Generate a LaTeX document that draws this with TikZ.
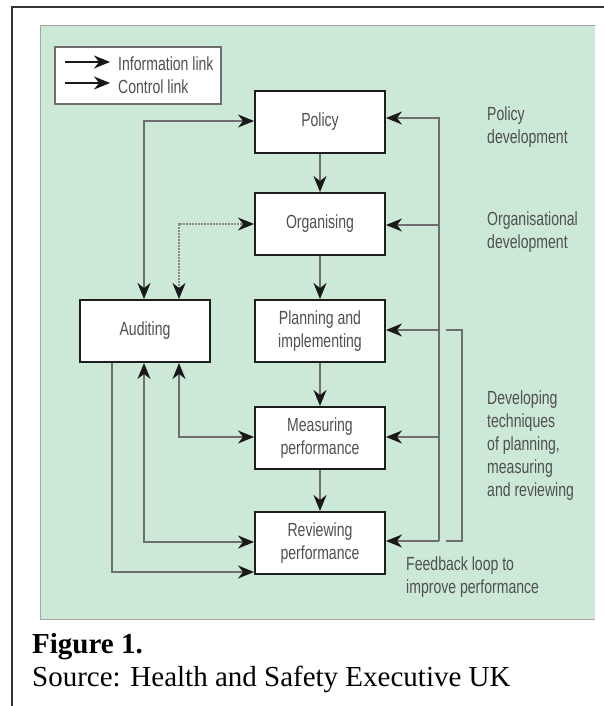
\documentclass[tikz,border=0pt]{standalone}
\usepackage{fontspec}
\setmainfont{Liberation Serif}
\newfontfamily\cond[FakeStretch=0.74]{Liberation Sans}
\usetikzlibrary{arrows.meta}
\definecolor{panel}{RGB}{204,232,215}
\definecolor{txt}{RGB}{80,80,80}
\definecolor{ln}{RGB}{110,110,110}
\definecolor{tipc}{RGB}{25,25,25}
\definecolor{boxc}{RGB}{30,30,30}
\newcommand{\stk}[1]{\vtop{\halign{##\hfil\cr#1\crcr}}}
\begin{document}
\begin{tikzpicture}[x=1pt,y=-1pt,
  >={Stealth[length=16pt,width=13pt,inset=5pt,color=tipc]},
  box/.style={draw=boxc, line width=2pt, fill=white, minimum width=130pt,
    minimum height=62pt, inner sep=0pt, align=center, text=txt,
    font=\cond\fontsize{19}{23}\selectfont},
  link/.style={draw=ln, line width=1.4pt},
  ctrl/.style={draw=ln!80, line width=1.4pt, dash pattern=on 2pt off 1pt},
  lbl/.style={text=txt, font=\cond\fontsize{19}{23}\selectfont, inner sep=0pt, anchor=base west}]
\useasboundingbox (0,0) rectangle (604,706);
% frame and panel
\draw[line width=1.5pt, draw=black!80] (12,706) -- (12,7) -- (604,7);
\fill[panel] (40,26) rectangle (595,619);
\draw[gray!70, line width=1pt] (595,26) -- (40,26) -- (40,619) -- (595,619);
% legend
\node[draw=ln, line width=1.4pt, fill=white, minimum width=166pt, minimum height=57pt, inner sep=0pt] (legend) at (138,75.5) {};
\coordinate (l1s) at (65,62); \coordinate (l1e) at (110,62);
\coordinate (l2s) at (65,83); \coordinate (l2e) at (110,83);
\draw[line width=1.4pt, draw=tipc, ->] (l1s) -- (l1e);
\draw[line width=1.4pt, draw=tipc, ->] (l2s) -- (l2e);
\node[lbl] (lt1) at (118,71) {Information link};
\node[lbl] (lt2) at (118,94) {Control link};
% boxes
\node[box] (policy) at (320,122) {Policy};
\node[box] (org) at (320,224) {Organising};
\node[box] (plan) at (320,331) {Planning and\\implementing};
\node[box] (meas) at (320,438) {Measuring\\performance};
\node[box] (rev) at (320,543) {Reviewing\\performance};
\node[box] (aud) at (145,331) {Auditing};
% central arrows
\draw[link,->] (policy) -- (org);
\draw[link,->] (org) -- (plan);
\draw[link,->] (plan) -- (meas);
\draw[link,->] (meas) -- (rev);
% left links
\coordinate (a1) at (144,121);
\coordinate (a2) at (179,224);
\coordinate (a3) at (179,437);
\coordinate (a4) at (144,542);
\coordinate (a5) at (112,572);
\draw[link,<->] (a1 |- aud.north) -- (a1) -- (a1 -| policy.west);
\draw[ctrl,<->] (a2 |- aud.north) -- (a2) -- (a2 -| org.west);
\draw[link,<->] (a3 |- aud.south) -- (a3) -- (a3 -| meas.west);
\draw[link,<->] (a4 |- aud.south) -- (a4) -- (a4 -| rev.west);
\draw[link,->] (a5 |- aud.south) -- (a5) -- (a5 -| rev.west);
% right links
\coordinate (rtop) at (439,118);
\coordinate (r2) at (439,225);
\coordinate (r3) at (439,330);
\coordinate (r4) at (439,437);
\coordinate (rbot) at (439,541);
\draw[link,->] (rbot) -- (rtop) -- (rtop -| policy.east);
\draw[link,->] (r2) -- (r2 -| org.east);
\draw[link,->] (r3) -- (r3 -| plan.east);
\draw[link,->] (r4) -- (r4 -| meas.east);
\draw[link,->] (rbot) -- (rbot -| rev.east);
% feedback bracket
\coordinate (b1) at (446,330);
\coordinate (b2) at (462,330);
\coordinate (b3) at (462,541);
\coordinate (b4) at (446,541);
\draw[link] (b1) -- (b2) -- (b3) -- (b4);
% right labels
\node[lbl] (t1) at (487,121) {\stk{Policy\cr development}};
\node[lbl] (t2) at (487,225) {\stk{Organisational\cr development}};
\node[lbl] (t3) at (487,404) {\stk{Developing\cr techniques\cr of planning,\cr measuring\cr and reviewing}};
\node[lbl] (t4) at (406,570) {\stk{Feedback loop to\cr improve performance}};
% caption
\node[anchor=base west, inner sep=0pt, font=\bfseries\fontsize{29}{34}\selectfont] (fig) at (32,653) {Figure 1.};
\node[anchor=base west, inner sep=0pt, font=\fontsize{29}{34}\selectfont] (src) at (32,686) {Source: Health and Safety Executive UK};
\end{tikzpicture}
\end{document}
